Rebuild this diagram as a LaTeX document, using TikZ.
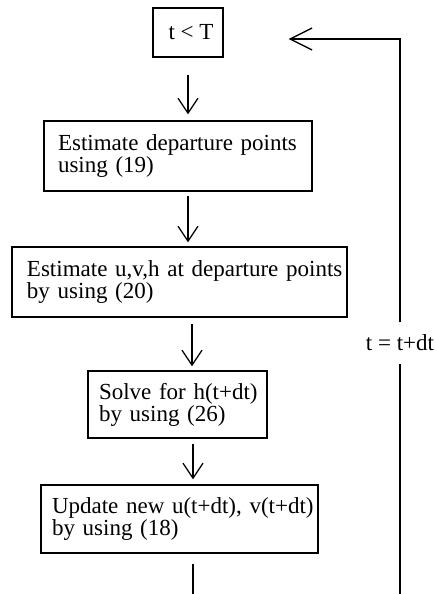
\documentclass[tikz,border=0pt]{standalone}
\usepackage{fontspec}
\setmainfont{Liberation Serif}
\usetikzlibrary{arrows.meta}
\begin{document}
\begin{tikzpicture}[x=1pt,y=-1pt,
  line width=1.3pt,
  stepbox/.style={draw, rectangle, align=left, inner ysep=0pt,
    font=\fontsize{23}{22}\selectfont},
  flow/.style={-{Straight Barb[length=15pt,width=20pt]}},
  backflow/.style={-{Straight Barb[length=22pt,width=22pt]}},
  plain/.style={}]
\useasboundingbox (0,0) rectangle (435,594);

% process boxes
\node[stepbox, align=center, minimum width=70pt, minimum height=49pt, inner xsep=0pt]
  (b1) at (188,32.5) {\hspace*{6pt}t < T};
\node[stepbox, inner xsep=14pt, text width=240pt, minimum height=70pt]
  (b2) at (178,156) {\mbox{Estimate departure points}\\using (19)};
\node[stepbox, inner xsep=15pt, text width=305pt, minimum height=70pt]
  (b3) at (179.5,282) {\mbox{Estimate u,v,h at departure points}\\by using (20)};
\node[stepbox, inner xsep=11pt, text width=157pt, minimum height=67pt]
  (b4) at (177.5,404.5) {\mbox{Solve for h(t+dt)}\\by using (26)};
\node[stepbox, inner xsep=11pt, text width=255pt, minimum height=68pt]
  (b5) at (179.5,519) {\mbox{Update new u(t+dt), v(t+dt)}\\by using (18)};

% loop label and corner points
\node[font=\fontsize{23}{22}\selectfont, minimum height=48pt, inner sep=0pt]
  (lbl) at (400,343) {t = t+dt};
\coordinate (base) at (400,594);
\coordinate (corner) at (400,39);

% downward flow
\draw[flow, shorten <=17pt, shorten >=6pt] (b1.south) -- (b1.south |- b2.north);
\draw[flow, shorten <=4pt, shorten >=4pt] ([xshift=10pt]b2.south) -- ([xshift=10pt]b2.south |- b3.north);
\draw[flow, shorten <=6pt, shorten >=4pt] ([xshift=12.5pt]b3.south) -- ([xshift=12.5pt]b3.south |- b4.north);
\draw[flow, shorten <=5pt, shorten >=5pt] ([xshift=15.5pt]b4.south) -- ([xshift=15.5pt]b4.south |- b5.north);
\draw[plain, shorten <=10pt] ([xshift=13.5pt]b5.south) -- ([xshift=13.5pt]b5.south |- base);

% feedback loop
\draw[plain, shorten >=-4pt] (base) -- (lbl.south);
\draw[backflow, shorten <=-4pt, shorten >=65pt] (lbl.north) -- (corner) -- (corner -| b1.east);
\end{tikzpicture}
\end{document}
